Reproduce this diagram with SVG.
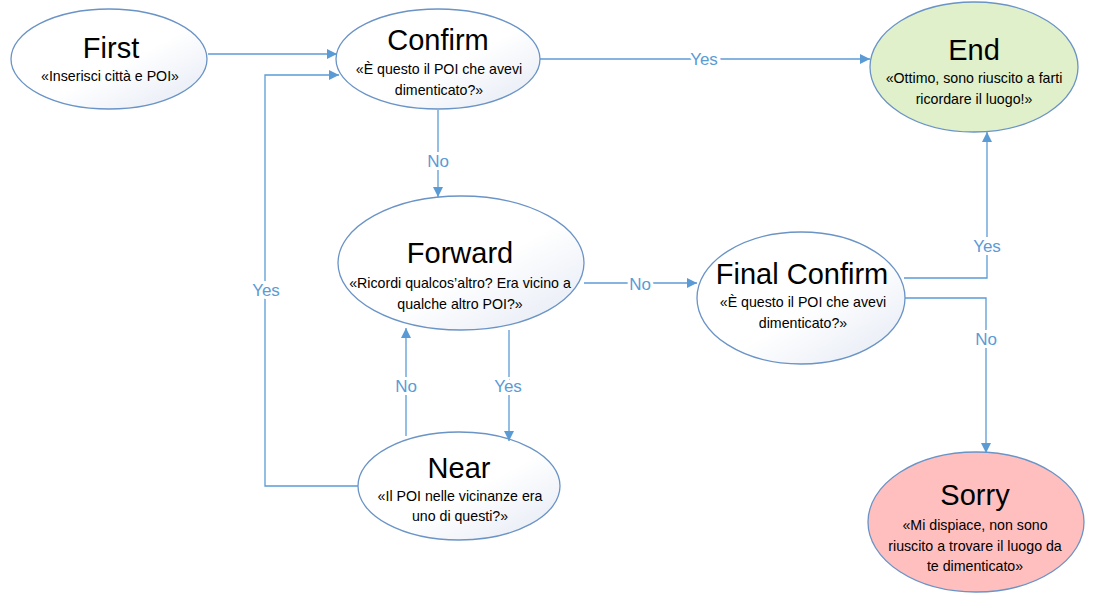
<svg xmlns="http://www.w3.org/2000/svg" width="1117" height="599" viewBox="0 0 1117 599">
<defs>
<linearGradient id="g" x1="0" y1="0" x2="1" y2="1">
<stop offset="0" stop-color="#ffffff"/>
<stop offset="0.55" stop-color="#ffffff"/>
<stop offset="1" stop-color="#e2e8f3"/>
</linearGradient>
<marker id="ah" viewBox="0 0 10 10" refX="10" refY="5" markerWidth="10" markerHeight="10" markerUnits="userSpaceOnUse" orient="auto">
<path d="M0,0 L10,5 L0,10 z" fill="#5b9bd5"/>
</marker>
<style>
.n{stroke:#6a93c6;stroke-width:1.3;fill:url(#g)}
.t{font-family:"Liberation Sans",Arial,sans-serif;font-size:29px;fill:#000;text-anchor:middle}
.s{font-family:"Liberation Sans",Arial,sans-serif;font-size:14.2px;fill:#000;text-anchor:middle}
.c{fill:none;stroke:#5b9bd5;stroke-width:1.3;marker-end:url(#ah)}
.l{font-family:"Liberation Sans",Arial,sans-serif;font-size:17px;fill:#5b9bd5;text-anchor:middle;stroke:#fff;stroke-width:6px;paint-order:stroke}
</style>
</defs>
<rect width="1117" height="599" fill="#fff"/>
<g id="first">
<ellipse class="n" cx="109" cy="59" rx="98" ry="50"/>
<text class="t" x="111" y="58">First</text>
<text class="s" x="110" y="81">«Inserisci città e POI»</text>
</g>
<g id="confirm">
<ellipse class="n" cx="438" cy="59" rx="102" ry="50"/>
<text class="t" x="438" y="50">Confirm</text>
<text class="s" x="439" y="74">«È questo il POI che avevi</text>
<text class="s" x="439" y="95">dimenticato?»</text>
</g>
<g id="end">
<ellipse cx="974" cy="67" rx="104" ry="65" fill="#dff0ca" stroke="#6a93c6" stroke-width="1.3"/>
<text class="t" x="974" y="60">End</text>
<text class="s" x="974" y="83">«Ottimo, sono riuscito a farti</text>
<text class="s" x="974" y="104">ricordare il luogo!»</text>
</g>
<g id="forward">
<ellipse class="n" cx="461" cy="263" rx="123" ry="67"/>
<text class="t" x="460" y="263">Forward</text>
<text class="s" x="460" y="288">«Ricordi qualcos’altro? Era vicino a</text>
<text class="s" x="460" y="309">qualche altro POI?»</text>
</g>
<g id="final-confirm">
<ellipse class="n" cx="801" cy="298" rx="104" ry="66"/>
<text class="t" x="802" y="284">Final Confirm</text>
<text class="s" x="803" y="307">«È questo il POI che avevi</text>
<text class="s" x="803" y="328">dimenticato?»</text>
</g>
<g id="near">
<ellipse class="n" cx="459" cy="486" rx="101" ry="54"/>
<text class="t" x="459" y="478">Near</text>
<text class="s" x="460" y="501">«Il POI nelle vicinanze era</text>
<text class="s" x="460" y="521">uno di questi?»</text>
</g>
<g id="sorry">
<ellipse cx="976" cy="522" rx="108" ry="70" fill="#ffbfbf" stroke="#6a93c6" stroke-width="1.3"/>
<text class="t" x="975" y="505">Sorry</text>
<text class="s" x="975" y="530">«Mi dispiace, non sono</text>
<text class="s" x="975" y="551">riuscito a trovare il luogo da</text>
<text class="s" x="975" y="571">te dimenticato»</text>
</g>
<g id="connectors">
<path class="c" d="M208,54 L337,54"/>
<path class="c" d="M358,486 L265,486 L265,75 L339,75"/>
<path class="c" d="M540,59 L870,59"/>
<path class="c" d="M438,110 L438,197"/>
<path class="c" d="M584,283 L697,283"/>
<path class="c" d="M509,330 L509,441"/>
<path class="c" d="M406,436 L406,328"/>
<path class="c" d="M904,278 L987,278 L987,132"/>
<path class="c" d="M905,298 L986,298 L986,453"/>
<text class="l" x="704" y="65">Yes</text>
<text class="l" x="438" y="167">No</text>
<text class="l" x="266" y="296">Yes</text>
<text class="l" x="640" y="290">No</text>
<text class="l" x="508" y="392">Yes</text>
<text class="l" x="406" y="392">No</text>
<text class="l" x="987" y="252">Yes</text>
<text class="l" x="986" y="345">No</text>
</g>
</svg>
